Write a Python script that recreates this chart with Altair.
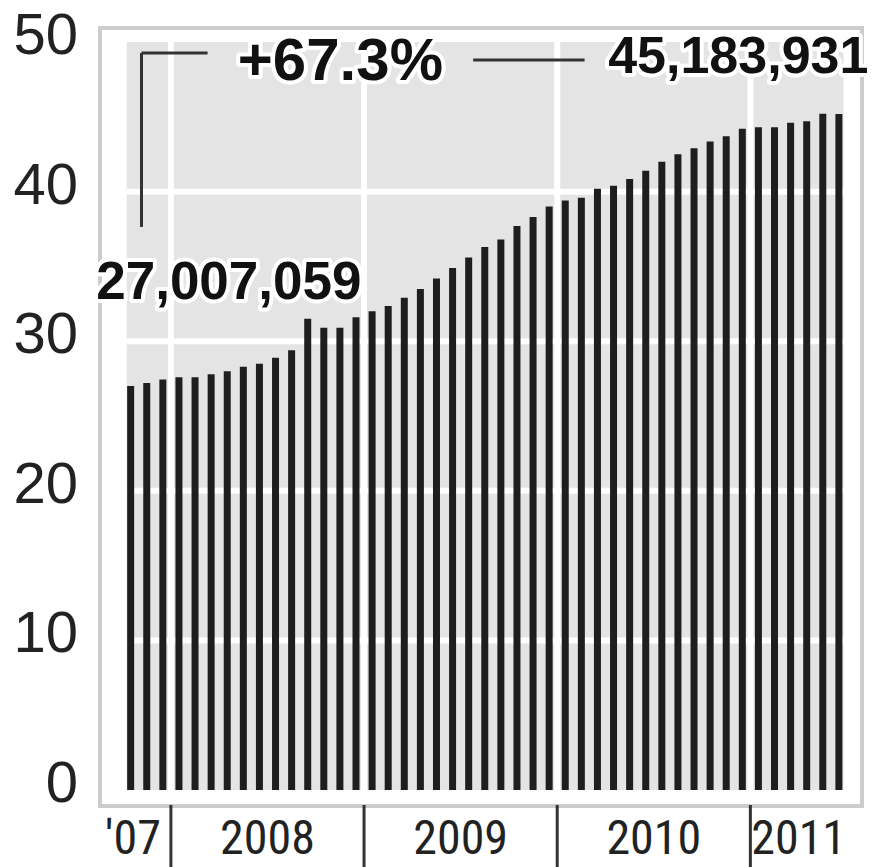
import altair as alt
import pandas as pd

# Monthly totals, October 2007 to June 2011 (millions)
months = pd.date_range("2007-10-01", periods=45, freq="MS")
totals = [
    27.007059, 27.2, 27.45, 27.6, 27.6, 27.8, 28.0, 28.3, 28.5, 28.9,
    29.4, 31.5, 30.9, 30.9, 31.6, 32.0, 32.35, 32.9, 33.5, 34.2,
    34.9, 35.6, 36.3, 36.8, 37.7, 38.3, 39.0, 39.4, 39.6, 40.2,
    40.4, 40.85, 41.4, 42.0, 42.5, 42.9, 43.35, 43.7, 44.2, 44.3,
    44.3, 44.6, 44.7, 45.2, 45.183931,
]
y_ticks = [0, 10, 20, 30, 40, 50]
grid_levels = [10, 20, 30, 40]
year_names = {2007: "'07", 2008: "2008", 2009: "2009", 2010: "2010", 2011: "2011"}

df = pd.DataFrame({"month": months, "total": totals})
df["idx"] = range(len(df))
df["year"] = df["month"].dt.year

# year label sits at the middle month of each year; separators between years
years = df.groupby("year")["idx"].agg(["mean", "min"]).reset_index()
years["label"] = years["year"].map(year_names)
bounds = years[years["year"] > years["year"].min()].copy()
bounds["edge"] = bounds["min"] - 0.5
full_years = years[years["year"] > years["year"].min()]
# the short first year is tucked against its separator
first_year = pd.DataFrame({
    "edge": [bounds["edge"].min()],
    "label": [year_names[years["year"].min()]],
})

first_val, last_val = totals[0], totals[-1]
change = (last_val / first_val - 1) * 100
first_txt = f"{round(first_val * 1e6):,}"
last_txt = f"{round(last_val * 1e6):,}"
change_txt = f"+{change:.1f}%"

W, H = 762, 778
X0, X1 = -0.245, 44.29          # shaded plot extent in month units
xs = alt.Scale(domain=[-1.594, 45.125], nice=False, zero=False)
ys = alt.Scale(domain=[-1.07, 50.94], nice=False, zero=False)

INK = "#1e1e1e"
SHADE = "#e4e4e4"
BOLD = "Liberation Sans"
NARROW = ("Roboto Condensed, Noto Sans Condensed, Liberation Sans Narrow, "
          "DejaVu Sans Condensed, Arial Narrow, Liberation Sans")

shade = alt.Chart(pd.DataFrame({"a": [0]})).mark_rect(color=SHADE).encode(
    x=alt.X(datum=X0, scale=xs, axis=None),
    x2=alt.X2(datum=X1),
    y=alt.Y(datum=0, scale=ys, axis=None),
    y2=alt.Y2(datum=50),
)

hgrid = alt.Chart(pd.DataFrame({"lvl": grid_levels})).mark_rule(
    color="white", strokeWidth=6
).encode(
    x=alt.X(datum=X0, scale=xs, axis=None),
    x2=alt.X2(datum=X1),
    y=alt.Y("lvl:Q", scale=ys, axis=None),
)

vgrid = alt.Chart(bounds).mark_rule(color="white", strokeWidth=6).encode(
    x=alt.X("edge:Q", scale=xs, axis=None),
    y=alt.Y(datum=0, scale=ys, axis=None),
    y2=alt.Y2(datum=50),
)

bars = alt.Chart(df).mark_bar(color=INK, size=7).encode(
    x=alt.X("idx:Q", scale=xs, axis=None),
    y=alt.Y("total:Q", scale=ys, axis=None),
    y2=alt.Y2(datum=0),
)

# value labels down the left side
y_labels = alt.Chart(pd.DataFrame({"tick": y_ticks})).mark_text(
    font="Liberation Sans", fontSize=58, color="#222222",
    align="right", baseline="alphabetic", dy=12,
).encode(
    x=alt.value(-22),
    y=alt.Y("tick:Q", scale=ys, axis=None),
    text="tick:Q",
)

separators = alt.Chart(bounds).mark_rule(color="#333333", strokeWidth=3).encode(
    x=alt.X("edge:Q", scale=xs, axis=None),
    y=alt.value(H - 1),
    y2=alt.value(H + 61),
)

year_text = alt.Chart(full_years).mark_text(
    font=NARROW, fontSize=48, color="#222222", baseline="alphabetic", align="center",
).encode(
    x=alt.X("mean:Q", scale=xs, axis=None),
    y=alt.value(H + 48),
    text="label:N",
)

first_year_text = alt.Chart(first_year).mark_text(
    font=NARROW, fontSize=48, color="#222222", baseline="alphabetic",
    align="right", dx=-10,
).encode(
    x=alt.X("edge:Q", scale=xs, axis=None),
    y=alt.value(H + 48),
    text="label:N",
)

# annotation leaders
leaders = pd.DataFrame({
    "x": [0.675, 0.675, 21.28],
    "x2": [0.675, 4.78, 28.2],
    "y": [49.27, 49.27, 48.8],
    "y2": [37.64, 49.27, 48.8],
})
leader_lines = alt.Chart(leaders).mark_rule(color="#333333", strokeWidth=3).encode(
    x=alt.X("x:Q", scale=xs, axis=None),
    x2="x2:Q",
    y=alt.Y("y:Q", scale=ys, axis=None),
    y2="y2:Q",
)

notes = pd.DataFrame({
    "x": [6.1, 13.03, 37.75],
    "y": [32.8, 47.46, 47.9],
    "size": [53, 60, 52],
    "txt": [first_txt, change_txt, last_txt],
})

def note_layer(halo):
    kw = dict(font=BOLD, fontWeight="bold", align="center", baseline="alphabetic")
    if halo:
        kw.update(color="white", stroke="white", strokeWidth=8, strokeJoin="round")
    else:
        kw.update(color="#111111")
    return alt.Chart(notes).mark_text(**kw).encode(
        x=alt.X("x:Q", scale=xs, axis=None),
        y=alt.Y("y:Q", scale=ys, axis=None),
        text="txt:N",
        size=alt.Size("size:Q", scale=None, legend=None),
    )

chart = alt.layer(
    shade, hgrid, vgrid, bars, y_labels, separators, year_text, first_year_text,
    leader_lines, note_layer(True), note_layer(False),
).properties(
    width=W, height=H,
    autosize=alt.AutoSizeParams(type="none"),
    padding={"left": 100, "top": 28, "right": 11, "bottom": 61},
    background="white",
).configure_view(
    stroke="#cccccc", strokeWidth=4, fill="white",
)

chart.save("out.html", embed_options={"renderer": "svg", "actions": False})
